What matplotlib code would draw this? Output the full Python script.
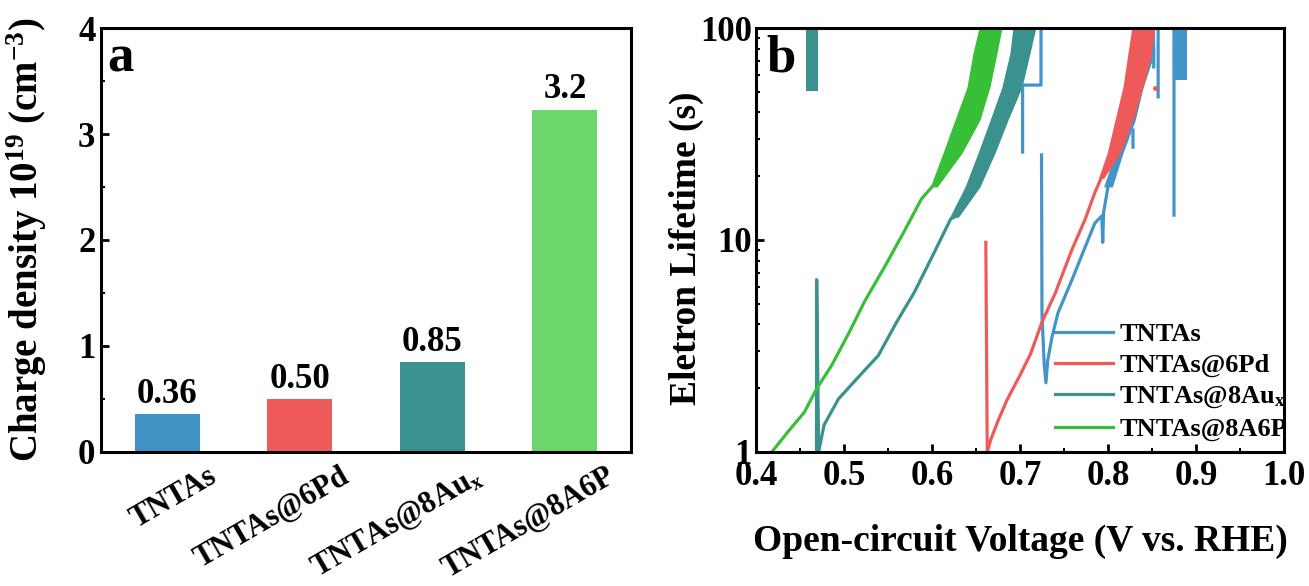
import numpy as np
import matplotlib
matplotlib.use("Agg")
import matplotlib.pyplot as plt
import matplotlib.transforms as mtransforms
from matplotlib.ticker import MultipleLocator, LogLocator, NullFormatter

plt.rcParams["font.family"] = ["Liberation Serif", "DejaVu Serif"]
plt.rcParams["font.weight"] = "bold"
plt.rcParams["mathtext.default"] = "regular"
plt.rcParams["axes.linewidth"] = 2.2

# ---- panel a: charge density ----
categories = ["TNTAs", "TNTAs@6Pd", "TNTAs@8Au$_x$", "TNTAs@8A6P"]
density = [0.36, 0.50, 0.85, 3.23]
density_text = ["0.36", "0.50", "0.85", "3.2"]
bar_colors = ["#4292c6", "#ef5b5b", "#3a918d", "#6bd66b"]

# ---- panel b: electron lifetime vs Voc ----
C_BLUE, C_RED, C_TEAL, C_GREEN = "#4394c8", "#ee5a5a", "#3a918d", "#38bf38"

# TNTAs (nan separates the broken pieces)
v_tntas = [0.7239, 0.7239, 0.703, 0.703, np.nan,
           0.7245, 0.725, 0.7275, 0.7295, 0.7315, 0.7364, 0.7432, 0.759, 0.7773,
           0.785, 0.793, 0.794, 0.795, 0.800, np.nan,
           0.8284, 0.8284, np.nan, 0.852, 0.852, np.nan, 0.857, 0.857, np.nan,
           0.875, 0.875]
t_tntas = [100, 53.8, 53.8, 26, np.nan,
           25.2, 4.5, 2.6, 2.12, 2.7, 3.49, 4.53, 6.48, 10.0,
           12.0, 13.0, 9.75, 13.5, 17.8, np.nan,
           33, 27.4, np.nan, 80, 65.5, np.nan, 100, 47.3, np.nan,
           100, 13.1]
band_t_tntas = [17.8, 25.7, 36.8, 52.7, 76.2, 100]
band_l_tntas = [0.795, 0.808, 0.821, 0.833, 0.838, 0.843]
band_r_tntas = [0.805, 0.817, 0.831, 0.840, 0.853, 0.853]
band2_t_tntas = [56.6, 100]
band2_l_tntas = [0.874, 0.874]
band2_r_tntas = [0.890, 0.890]

# TNTAs@6Pd
v_6pd = [0.6612, 0.6628, 0.667, 0.675, 0.685, 0.700, 0.712, 0.725, 0.740,
         0.759, 0.774, 0.785, 0.792]
t_6pd = [9.75, 1.0, 1.15, 1.4, 1.75, 2.3, 2.9, 4.1, 5.6,
         9.0, 12.5, 16.7, 19.5]
band_t_6pd = [19.5, 25.7, 36.8, 52.7, 76.2, 100]
band_l_6pd = [0.789, 0.799, 0.808, 0.817, 0.8227, 0.827]
band_r_6pd = [0.795, 0.814, 0.8284, 0.840, 0.850, 0.853]
dot_6pd = (0.853, 52.0)

# TNTAs@8Aux
v_8au = [0.4688, 0.4690, 0.4712, 0.4774, 0.4938, 0.5144, 0.539, 0.5597,
         0.580, 0.6008, 0.6214, 0.625]
t_8au = [1.0, 6.5, 1.0, 1.34, 1.78, 2.21, 2.85, 4.09,
         5.67, 8.44, 12.6, 12.8]
band_t_8au = [12.8, 17.8, 25.7, 36.8, 52.7, 76.2, 100]
band_l_8au = [0.620, 0.6375, 0.6523, 0.666, 0.6795, 0.6886, 0.692]
band_r_8au = [0.630, 0.6545, 0.6716, 0.6864, 0.7023, 0.7114, 0.718]
block_v_8au = [0.457, 0.470]
block_t_8au = [50.5, 100]

# TNTAs@8A6P
v_8a6p = [0.418, 0.436, 0.455, 0.469, 0.486, 0.506, 0.523, 0.547, 0.568,
          0.588, 0.600]
t_8a6p = [1.0, 1.24, 1.54, 1.99, 2.56, 3.67, 5.09, 7.57, 10.9,
          15.6, 17.8]
band_t_8a6p = [17.8, 25.7, 36.8, 52.7, 76.2, 100]
band_l_8a6p = [0.598, 0.6125, 0.6261, 0.6398, 0.6466, 0.6534]
band_r_8a6p = [0.606, 0.6341, 0.6545, 0.6659, 0.6739, 0.6795]

fig = plt.figure(figsize=(13.09, 5.86), dpi=100)
ax1 = fig.add_axes([0.0772, 0.2287, 0.405, 0.7235])
ax2 = fig.add_axes([0.5775, 0.2287, 0.4034, 0.7235])

# ---- panel a ----
x = np.arange(len(categories))
ax1.bar(x, density, width=0.49, color=bar_colors)
for xi, d, s in zip(x, density, density_text):
    ax1.text(xi, d + 0.03, s, ha="center", va="bottom", fontsize=25, fontweight="bold")
ax1.set_xlim(-0.5, 3.5)
ax1.set_ylim(0, 4)
ax1.yaxis.set_major_locator(MultipleLocator(1))
ax1.yaxis.set_minor_locator(MultipleLocator(0.5))
ax1.tick_params(axis="y", which="major", direction="in", length=6, width=2, labelsize=25, pad=4)
ax1.tick_params(axis="y", which="minor", direction="in", length=3, width=1.5)
ax1.set_xticks(x)
ax1.set_xticklabels(categories, rotation=30, ha="right", rotation_mode="anchor", fontsize=22)
ax1.tick_params(axis="x", length=0, pad=7)
offset = mtransforms.ScaledTranslation(0.40, 0.0, fig.dpi_scale_trans)
for lab in ax1.get_xticklabels():
    lab.set_transform(lab.get_transform() + offset)
ax1.set_ylabel("Charge density 10$^{19}$ (cm$^{-3}$)", fontsize=28, fontweight="bold")
ax1.yaxis.set_label_coords(-0.098, 0.5)
ax1.text(0.012, 0.985, "a", transform=ax1.transAxes, ha="left", va="top", fontsize=38, fontweight="bold")

# ---- panel b ----
lw = 2.3
ax2.plot(v_tntas, t_tntas, color=C_BLUE, lw=lw, label="TNTAs")
ax2.fill_betweenx(band_t_tntas, band_l_tntas, band_r_tntas, color=C_BLUE, lw=0)
ax2.fill_betweenx(band2_t_tntas, band2_l_tntas, band2_r_tntas, color=C_BLUE, lw=0)

ax2.plot(v_6pd, t_6pd, color=C_RED, lw=lw, label="TNTAs@6Pd")
ax2.fill_betweenx(band_t_6pd, band_l_6pd, band_r_6pd, color=C_RED, lw=0)
ax2.plot([dot_6pd[0]], [dot_6pd[1]], "o", color=C_RED, ms=2.5)

ax2.plot(v_8au, t_8au, color=C_TEAL, lw=lw, label="TNTAs@8Au$_x$")
ax2.fill_betweenx(band_t_8au, band_l_8au, band_r_8au, color=C_TEAL, lw=0)
ax2.fill_betweenx(block_t_8au, [block_v_8au[0]] * 2, [block_v_8au[1]] * 2, color=C_TEAL, lw=0)

ax2.plot(v_8a6p, t_8a6p, color=C_GREEN, lw=lw, label="TNTAs@8A6P")
ax2.fill_betweenx(band_t_8a6p, band_l_8a6p, band_r_8a6p, color=C_GREEN, lw=0)

ax2.set_yscale("log")
ax2.set_xlim(0.4, 1.0)
ax2.set_ylim(1, 100)
ax2.xaxis.set_major_locator(MultipleLocator(0.1))
ax2.xaxis.set_minor_locator(MultipleLocator(0.05))
ax2.yaxis.set_minor_locator(LogLocator(base=10, subs=np.arange(2, 10)))
ax2.yaxis.set_minor_formatter(NullFormatter())
ax2.set_yticks([1, 10, 100])
ax2.set_yticklabels(["1", "10", "100"])
ax2.tick_params(which="major", direction="in", length=6, width=2, labelsize=25)
ax2.tick_params(which="minor", direction="in", length=3, width=1.5)
ax2.tick_params(axis="x", pad=6)
ax2.tick_params(axis="y", pad=3)
ax2.set_xlabel("Open-circuit Voltage (V vs. RHE)", fontsize=27, fontweight="bold")
ax2.xaxis.set_label_coords(0.5, -0.17)
ax2.set_ylabel("Eletron Lifetime (s)", fontsize=27, fontweight="bold")
ax2.yaxis.set_label_coords(-0.098, 0.48)
ax2.text(0.02, 0.985, "b", transform=ax2.transAxes, ha="left", va="top", fontsize=38, fontweight="bold")
ax2.legend(loc="lower right", bbox_to_anchor=(1.026, 0.0), frameon=False,
           handlelength=2.2, handletextpad=0.26, labelspacing=0.28, borderaxespad=0.0,
           prop={"weight": "bold", "size": 19})

fig.savefig("out.png", dpi=100)
